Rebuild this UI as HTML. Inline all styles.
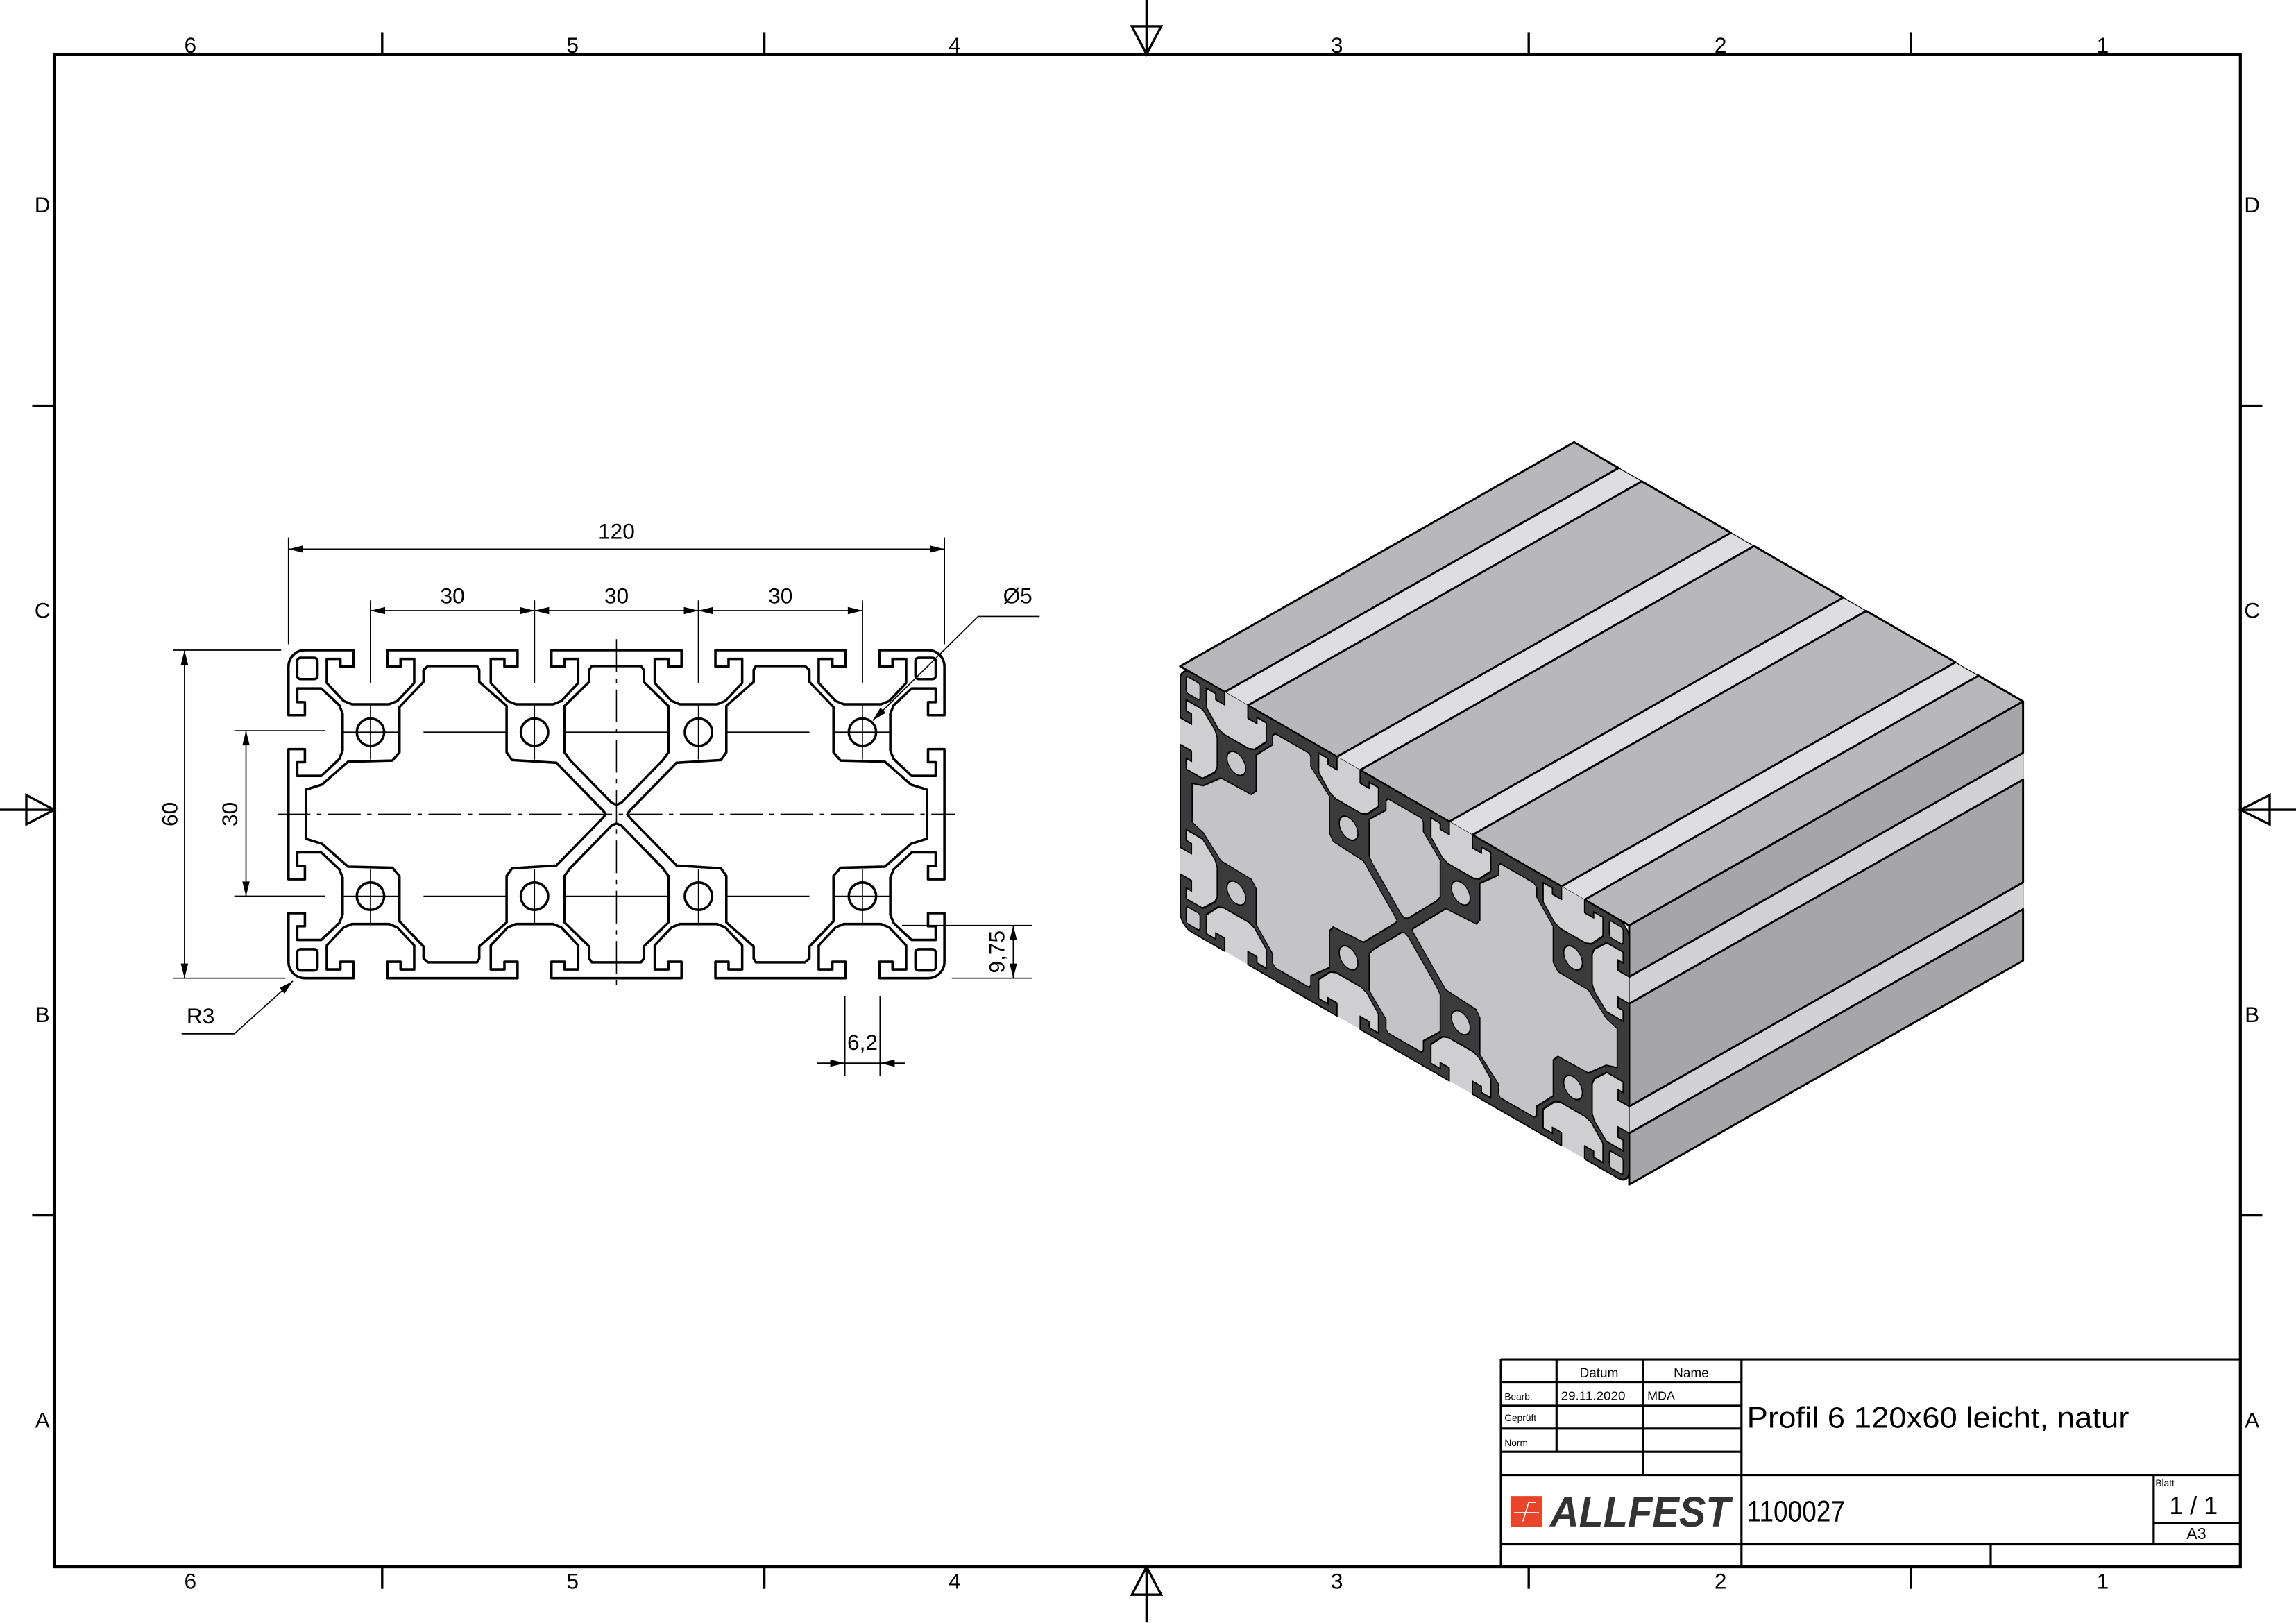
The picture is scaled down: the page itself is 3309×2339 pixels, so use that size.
<!DOCTYPE html>
<html><head><meta charset="utf-8"><style>
html,body{margin:0;padding:0;background:#fff}
svg{display:block}
text{font-family:"Liberation Sans",sans-serif;fill:#000}
</style></head><body>
<svg id="s" xmlns="http://www.w3.org/2000/svg" width="3309" height="2339" viewBox="0 0 1568 1108.35">
<rect width="1568" height="1108.35" fill="#fff"/>
<!-- frame -->
<g stroke="#000" fill="none">
<rect x="37" y="37" width="1493" height="1033" stroke-width="2"/>
<g stroke-width="1.6">
<line x1="261" y1="22" x2="261" y2="37"/><line x1="522" y1="22" x2="522" y2="37"/><line x1="1044" y1="22" x2="1044" y2="37"/><line x1="1305" y1="22" x2="1305" y2="37"/>
<line x1="261" y1="1070" x2="261" y2="1085"/><line x1="522" y1="1070" x2="522" y2="1085"/><line x1="1044" y1="1070" x2="1044" y2="1085"/><line x1="1305" y1="1070" x2="1305" y2="1085"/>
<line x1="22" y1="277" x2="37" y2="277"/><line x1="22" y1="830" x2="37" y2="830"/>
<line x1="1530" y1="277" x2="1545" y2="277"/><line x1="1530" y1="830" x2="1545" y2="830"/>
<line x1="783" y1="0" x2="783" y2="37"/><polygon points="773,18 793,18 783,37"/>
<line x1="783" y1="1070" x2="783" y2="1108"/><polygon points="773,1089 793,1089 783,1070"/>
<line x1="0" y1="553" x2="37" y2="553"/><polygon points="18,543 18,563 37,553"/>
<line x1="1530" y1="553" x2="1568" y2="553"/><polygon points="1550,543 1550,563 1530,553"/>
</g></g>
<g font-size="15" text-anchor="middle">
<text x="130" y="36">6</text><text x="391" y="36">5</text><text x="652" y="36">4</text><text x="913" y="36">3</text><text x="1175" y="36">2</text><text x="1436" y="36">1</text>
<text x="130" y="1085">6</text><text x="391" y="1085">5</text><text x="652" y="1085">4</text><text x="913" y="1085">3</text><text x="1175" y="1085">2</text><text x="1436" y="1085">1</text>
<text x="29" y="145">D</text><text x="29" y="422">C</text><text x="29" y="698">B</text><text x="29" y="975">A</text>
<text x="1538" y="145">D</text><text x="1538" y="422">C</text><text x="1538" y="698">B</text><text x="1538" y="975">A</text>
</g>

<!-- 2D profile -->
<g transform="translate(421,556) scale(3.733)" fill="none" stroke="#000">
<path class="outer" stroke-width="0.45" stroke-linejoin="round"/>
<path class="cham" stroke-width="0.45" stroke-linejoin="round"/>
<g stroke-width="0.45">
<rect x="-58.4" y="-28.6" width="3.7" height="3.9" rx="0.6"/><rect x="54.7" y="-28.6" width="3.7" height="3.9" rx="0.6"/>
<rect x="-58.4" y="24.7" width="3.7" height="3.9" rx="0.6"/><rect x="54.7" y="24.7" width="3.7" height="3.9" rx="0.6"/>
<circle cx="-45" cy="-15" r="2.5"/><circle cx="-15" cy="-15" r="2.5"/><circle cx="15" cy="-15" r="2.5"/><circle cx="45" cy="-15" r="2.5"/>
<circle cx="-45" cy="15" r="2.5"/><circle cx="-15" cy="15" r="2.5"/><circle cx="15" cy="15" r="2.5"/><circle cx="45" cy="15" r="2.5"/>
</g>
<g stroke-width="0.2">
<path d="M-50.3,-15H-39.7M-35.3,-15H-20.1M-9.5,-15H9.5M20.1,-15H35.3M39.7,-15H50.3M-50.3,15H-39.7M-35.3,15H-20.1M-9.5,15H9.5M20.1,15H35.3M39.7,15H50.3"/>
<path d="M-45,-10V-20.1M-15,-10V-20.1M15,-10V-20.1M45,-10V-20.1M-45,10V20.1M-15,10V20.1M15,10V20.1M45,10V20.1"/>
<path d="M-45,-24V-39M-15,-24V-39M15,-24V-39M45,-24V-39"/>
<path d="M-62,0H62" stroke-dasharray="6,1.2,0.8,1.2"/>
<path d="M0,-32V32" stroke-dasharray="6,1.2,0.8,1.2"/>
</g>
</g>
<!-- dimensions -->
<g stroke="#000" stroke-width="0.8" fill="none">
<path d="M197,440V367M645,440V367M197,375H645M253,417H589"/>
<path d="M253,466V410M365,466V410M477,466V410M589,466V410"/>
<path d="M118,444H192M118,668H195M126,444V668M160,499H222M160,612H222M168,499V612"/>
<path d="M616,632H705M650,668H705M692,632V668"/>
<path d="M577,680V735M601,680V735M558,726H618"/>
<path d="M596,492L668,421H710M200,670L160,706H124"/>
</g>
<g fill="#000">
<polygon points="197,375 207,372.5 207,377.5"/><polygon points="645,375 635,372.5 635,377.5"/>
<polygon points="253,417 263,414.5 263,419.5"/><polygon points="365,417 355,414.5 355,419.5"/>
<polygon points="365,417 375,414.5 375,419.5"/><polygon points="477,417 467,414.5 467,419.5"/>
<polygon points="477,417 487,414.5 487,419.5"/><polygon points="589,417 579,414.5 579,419.5"/>
<polygon points="126,444 123.5,454 128.5,454"/><polygon points="126,668 123.5,658 128.5,658"/>
<polygon points="168,499 165.5,509 170.5,509"/><polygon points="168,612 165.5,602 170.5,602"/>
<polygon points="692,632 689.5,642 694.5,642"/><polygon points="692,668 689.5,658 694.5,658"/>
<polygon points="577,726 567,723.5 567,728.5"/><polygon points="601,726 611,723.5 611,728.5"/>
<polygon points="596,492 604.9,486.8 601.3,483.3"/><polygon points="200,670 194.3,678.6 190.9,674.8"/>
</g>
<g font-size="15" text-anchor="middle">
<text x="421" y="368">120</text>
<text x="309" y="412">30</text><text x="421" y="412">30</text><text x="533" y="412">30</text>
<text x="695" y="412">Ø5</text>
<text x="589" y="717">6,2</text>
<text x="137" y="699">R3</text>
<text transform="translate(121,556) rotate(-90)">60</text>
<text transform="translate(162,556) rotate(-90)">30</text>
<text transform="translate(686,650) rotate(-90)">9,75</text>
</g>

<!-- isometric view -->
<g id="iso"></g>
<g transform="matrix(2.555 1.475 0 2.95 959.3 632)">
<rect x="-60" y="-30" width="120" height="60" rx="3" fill="#cfcfd2"/>
<path class="outer" fill="#3b3b3b" stroke="#000" stroke-width="0.35" stroke-linejoin="round"/>
<path class="cham" fill="#c4c4c8" stroke="#000" stroke-width="0.3" stroke-linejoin="round"/>
<g fill="#c8c8cc" stroke="#000" stroke-width="0.3">
<rect x="-58.4" y="-28.6" width="3.7" height="3.9" rx="0.6"/><rect x="54.7" y="-28.6" width="3.7" height="3.9" rx="0.6"/>
<rect x="-58.4" y="24.7" width="3.7" height="3.9" rx="0.6"/><rect x="54.7" y="24.7" width="3.7" height="3.9" rx="0.6"/>
<circle cx="-45" cy="-15" r="2.5"/><circle cx="-15" cy="-15" r="2.5"/><circle cx="15" cy="-15" r="2.5"/><circle cx="45" cy="-15" r="2.5"/>
<circle cx="-45" cy="15" r="2.5"/><circle cx="-15" cy="15" r="2.5"/><circle cx="15" cy="15" r="2.5"/><circle cx="45" cy="15" r="2.5"/>
</g>
</g>

<!-- title block -->
<g stroke="#000" stroke-width="1.5" fill="none">
<path d="M1025,928.3H1530M1025,943.7H1189.3M1025,960H1189.3M1025,975.6H1189.3M1025,991.4H1189.3M1025,1007.2H1530M1025,1054.6H1530M1470.8,1040H1530"/>
<path d="M1025,928.3V1070M1063,928.3V991.4M1121.9,928.3V1007.2M1189.3,928.3V1070M1470.8,1007.2V1054.6M1359.5,1054.6V1070"/>
</g>
<g>
<text x="1092" y="940.5" font-size="9" text-anchor="middle">Datum</text>
<text x="1155" y="940.5" font-size="9" text-anchor="middle">Name</text>
<text x="1027.5" y="956" font-size="6.5">Bearb.</text>
<text x="1066" y="956" font-size="8.5" textLength="44" lengthAdjust="spacingAndGlyphs">29.11.2020</text>
<text x="1125" y="956" font-size="8.5">MDA</text>
<text x="1027.5" y="970.5" font-size="6.5">Geprüft</text>
<text x="1027.5" y="987.5" font-size="6.5">Norm</text>
<text x="1193" y="975" font-size="20" textLength="261" lengthAdjust="spacingAndGlyphs">Profil 6 120x60 leicht, natur</text>
<text x="1193" y="1039" font-size="20" textLength="67" lengthAdjust="spacingAndGlyphs">1100027</text>
<text x="1472" y="1015" font-size="6.5">Blatt</text>
<text x="1498" y="1034" font-size="17" text-anchor="middle">1 / 1</text>
<text x="1500" y="1051" font-size="11" text-anchor="middle">A3</text>
</g>
<rect x="1032" y="1021.7" width="21" height="20.8" fill="#e8452a"/>
<path d="M1034,1033H1051M1040,1039L1044,1026H1049M1043,1033H1047" stroke="#fff" stroke-width="0.8" fill="none"/>
<text x="1058.6" y="1042.5" font-size="29" font-weight="bold" font-style="italic" fill="#333" style="fill:#333" textLength="123" lengthAdjust="spacingAndGlyphs">ALLFEST</text>
</svg>
<script>
(function(){
var slot=[[-3.1,0],[-3.1,3],[-5.5,3],[-5.5,1.6],[-8,1.6],[-8,6],[-4.9,9.3],[-3.4,9.9],[3.4,9.9],[4.9,9.3],[8,6],[8,1.6],[5.5,1.6],[5.5,3],[3.1,3],[3.1,0]];
var d='M-57,-30';
[-45,-15,15,45].forEach(function(X){slot.forEach(function(p){d+=' L'+(X+p[0])+','+(-30+p[1]);});});
d+=' L57,-30 A3,3 0 0 1 60,-27';
[-15,15].forEach(function(Y){slot.forEach(function(p){d+=' L'+(60-p[1])+','+(Y+p[0]);});});
d+=' L60,27 A3,3 0 0 1 57,30';
[45,15,-15,-45].forEach(function(X){slot.forEach(function(p){d+=' L'+(X-p[0])+','+(30-p[1]);});});
d+=' L-57,30 A3,3 0 0 1 -60,27';
[15,-15].forEach(function(Y){slot.forEach(function(p){d+=' L'+(-60+p[1])+','+(Y-p[0]);});});
d+=' L-60,-27 A3,3 0 0 1 -57,-30 Z';
var LT=[[-56.8,-4.5],[-53.9,-5.4],[-49.1,-9.6],[-41,-9.8],[-39.7,-11.3],[-39.7,-19.6],[-35.3,-24.2],[-35.3,-26.4],[-34.5,-27.1],[-25.5,-27.1],[-25.1,-26.4],[-25.1,-24.2],[-20.1,-19.8],[-20.1,-11.3],[-19.1,-9.9],[-11,-9.4],[-2.4,-0.6]];
function poly(pts){return 'M'+pts.map(function(p){return p[0]+','+p[1];}).join(' L')+' Z ';}
var L=LT.slice();L.push([-2,0]);for(var i=LT.length-1;i>=0;i--)L.push([LT[i][0],-LT[i][1]]);
var R=L.map(function(p){return [-p[0],p[1]];});
var TC=[[-4.5,-27.1],[4.5,-27.1],[5,-26.4],[5,-24.2],[9.5,-19.8],[9.5,-11.3],[8.5,-9.9],[0.9,-2.1],[0,-1.7],[-0.9,-2.1],[-8.5,-9.9],[-9.5,-11.3],[-9.5,-19.8],[-5,-24.2],[-5,-26.4]];
var BC=TC.map(function(p){return [p[0],-p[1]];});
var c=poly(L)+poly(R)+poly(TC)+poly(BC);
document.querySelectorAll('.outer').forEach(function(e){e.setAttribute('d',d);});
document.querySelectorAll('.cham').forEach(function(e){e.setAttribute('d',c);});
// iso faces
function P(x,y){return [959.3+2.555*x,632+1.475*x+2.95*y];}
var E=[269,-153];
function quad(a,b){return [a,b,[b[0]+E[0],b[1]+E[1]],[a[0]+E[0],a[1]+E[1]]];}
function ps(q){return q.map(function(p){return p[0].toFixed(1)+','+p[1].toFixed(1);}).join(' ');}
var ns='http://www.w3.org/2000/svg',g=document.getElementById('iso');
function add(q,fill,sw){var e=document.createElementNS(ns,'polygon');e.setAttribute('points',ps(q));e.setAttribute('fill',fill);e.setAttribute('stroke','#000');e.setAttribute('stroke-width',sw);e.setAttribute('stroke-linejoin','round');g.appendChild(e);}
add(quad(P(-60,-30),P(60,-30)),'#dedee0',0.6);
add(quad(P(60,-30),P(60,30)),'#d2d2d5',0.6);
[[-60,-48.1],[-41.9,-18.1],[-11.9,11.9],[18.1,41.9],[48.1,60]].forEach(function(r){add(quad(P(r[0],-30),P(r[1],-30)),'#b8b8bc',1.4);});
[[-30,-18.1],[-11.9,11.9],[18.1,30]].forEach(function(r){add(quad(P(60,r[0]),P(60,r[1])),'#a6a6aa',1.4);});
})();
</script>
</body></html>
